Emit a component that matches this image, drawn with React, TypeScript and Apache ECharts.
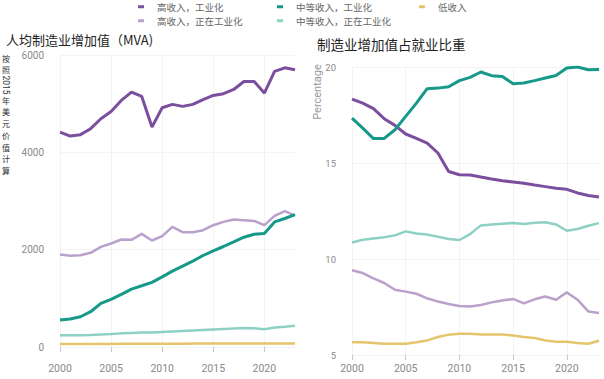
import React, { useEffect, useRef } from "react";
import * as echarts from "echarts";

const years = ["2000","2001","2002","2003","2004","2005","2006","2007","2008","2009","2010","2011","2012","2013","2014","2015","2016","2017","2018","2019","2020","2021","2022","2023"];

const seriesNames = ["高收入，工业化", "中等收入，工业化", "低收入", "高收入，正在工业化", "中等收入，正在工业化"];
const seriesColors = ["#7b4f9d", "#17998a", "#e6c46c", "#b9a1cb", "#8fd0c5"];

// MVA per capita (constant 2015 USD)
const mvaHighInd = [4416, 4334, 4363, 4486, 4691, 4841, 5067, 5237, 5149, 4519, 4917, 4985, 4944, 4985, 5081, 5169, 5204, 5292, 5456, 5456, 5217, 5662, 5737, 5696];
const mvaMidInd = [554, 574, 622, 725, 896, 978, 1081, 1190, 1258, 1327, 1442, 1559, 1662, 1764, 1880, 1976, 2065, 2160, 2256, 2318, 2332, 2570, 2640, 2720];
const mvaLow = [60, 60, 62, 62, 63, 64, 65, 66, 67, 67, 68, 69, 69, 70, 70, 71, 71, 72, 72, 72, 70, 71, 72, 72];
const mvaHighIng = [1901, 1873, 1887, 1935, 2058, 2127, 2209, 2202, 2325, 2188, 2277, 2468, 2359, 2359, 2400, 2503, 2571, 2619, 2605, 2591, 2503, 2694, 2790, 2700];
const mvaMidIng = [240, 240, 242, 245, 255, 265, 280, 290, 300, 300, 310, 320, 330, 340, 350, 360, 370, 380, 390, 385, 365, 400, 415, 435];

// Manufacturing share of employment (%)
const shHighInd = [18.33, 18.12, 17.83, 17.31, 16.96, 16.51, 16.28, 16.04, 15.52, 14.56, 14.39, 14.38, 14.27, 14.17, 14.08, 14.01, 13.94, 13.85, 13.77, 13.68, 13.63, 13.44, 13.31, 13.23];
const shMidInd = [17.34, 16.82, 16.27, 16.28, 16.73, 17.43, 18.12, 18.87, 18.9, 18.97, 19.29, 19.46, 19.74, 19.55, 19.51, 19.13, 19.17, 19.29, 19.43, 19.56, 19.95, 20.0, 19.86, 19.87];
const shLow = [5.66, 5.66, 5.63, 5.59, 5.59, 5.59, 5.66, 5.76, 5.94, 6.06, 6.11, 6.11, 6.07, 6.07, 6.07, 6.02, 5.94, 5.89, 5.76, 5.69, 5.69, 5.63, 5.59, 5.74];
const shHighIng = [9.41, 9.27, 8.99, 8.75, 8.40, 8.30, 8.19, 7.95, 7.79, 7.66, 7.55, 7.53, 7.60, 7.74, 7.84, 7.92, 7.69, 7.90, 8.05, 7.88, 8.26, 7.88, 7.27, 7.19];
const shMidIng = [10.86, 11.0, 11.07, 11.13, 11.23, 11.44, 11.33, 11.27, 11.16, 11.04, 10.99, 11.30, 11.75, 11.80, 11.84, 11.87, 11.82, 11.89, 11.91, 11.80, 11.47, 11.56, 11.73, 11.87];

const leftTicks = { min: 0, max: 6000, interval: 2000 };
const rightTicks = { min: 5, max: 20, interval: 5 };

const CJK = '"Noto Sans CJK SC", "Noto Sans", sans-serif';
const NUM = 'Roboto, "Open Sans", sans-serif';

export default function App() {
  const ref = useRef<HTMLDivElement>(null);
  useEffect(() => {
    const chart = echarts.init(ref.current!, null, { renderer: "svg" });
    const mvaData = [mvaHighInd, mvaMidInd, mvaLow, mvaHighIng, mvaMidIng];
    const shData = [shHighInd, shMidInd, shLow, shHighIng, shMidIng];
    const widths = [3, 3, 2.5, 2.5, 2.5];

    const xAxisBase = (gridIndex: number, offset: number) => ({
      type: "category",
      gridIndex,
      data: years,
      boundaryGap: false,
      offset,
      axisLine: { show: false },
      axisTick: { show: true, interval: 4, length: 5, lineStyle: { color: "#c8c8c8" } },
      axisLabel: { interval: 4, margin: 8, color: "#8a8a8a", fontSize: 10.5, fontFamily: NUM },
      splitLine: { show: true, interval: 4, lineStyle: { color: "#f3f3f3", width: 1 } },
    });
    const yAxisBase = (gridIndex: number, t: any, fs: number) => ({
      type: "value",
      gridIndex,
      min: t.min,
      max: t.max,
      interval: t.interval,
      axisLine: { show: false },
      axisTick: { show: false },
      axisLabel: { margin: 16, color: "#8a8a8a", fontSize: fs, fontFamily: NUM, formatter: (v: number) => String(v) },
      splitLine: { show: true, lineStyle: { color: "#f3f3f3", width: 1 } },
    });

    const series: any[] = [];
    seriesNames.forEach((name, i) => {
      series.push({
        type: "line", name, xAxisIndex: 0, yAxisIndex: 0, data: mvaData[i],
        showSymbol: false, symbol: "none", color: seriesColors[i],
        lineStyle: { width: widths[i], color: seriesColors[i] },
        z: i < 2 ? 3 : 2,
      });
      series.push({
        type: "line", name, xAxisIndex: 1, yAxisIndex: 1, data: shData[i],
        showSymbol: false, symbol: "none", color: seriesColors[i],
        lineStyle: { width: widths[i], color: seriesColors[i] },
        z: i < 2 ? 3 : 2,
      });
    });

    const legendPos = [
      { left: 138, top: 2 },
      { left: 277, top: 2 },
      { left: 419, top: 2 },
      { left: 138, top: 16 },
      { left: 277, top: 16 },
    ];
    const legends = seriesNames.map((name, i) => ({
      data: [name],
      left: legendPos[i].left,
      top: legendPos[i].top,
      icon: "rect",
      itemWidth: 6,
      itemHeight: 3,
      padding: 0,
      selectedMode: false,
      textStyle: { fontSize: 9.5, color: "#666", fontFamily: CJK, padding: [0, 0, 0, 8] },
    }));

    const yNameStyle = { font: `8px ${CJK}`, fill: "#333", textAlign: "center", textVerticalAlign: "middle" };

    chart.setOption({
      animation: false,
      backgroundColor: "#ffffff",
      legend: legends,
      grid: [
        { left: 60, right: 309, top: 55, bottom: 32, containLabel: false },
        { left: 352, right: 5, top: 67, bottom: 24, containLabel: false },
      ],
      xAxis: [xAxisBase(0, 8), xAxisBase(1, 0)],
      yAxis: [yAxisBase(0, leftTicks, 10), yAxisBase(1, rightTicks, 9.5)],
      series,
      graphic: [
        { type: "text", x: 6, y: 39.5, style: { text: "人均制造业增加值（MVA)", font: `13px ${CJK}`, fill: "#222", textVerticalAlign: "middle" } },
        { type: "text", x: 317, y: 44, style: { text: "制造业增加值占就业比重", font: `13.5px ${CJK}`, fill: "#222", textVerticalAlign: "middle" } },
        { type: "text", x: 6, y: 63.9, style: { ...yNameStyle, text: "按\n照", lineHeight: 11.8 } },
        { type: "text", x: 6, y: 85, rotation: -Math.PI / 2, style: { ...yNameStyle, text: "2015", font: `8.5px ${NUM}` } },
        { type: "text", x: 6, y: 135.4, style: { ...yNameStyle, text: "年\n美\n元\n价\n值\n计\n算", lineHeight: 11.8 } },
        { type: "text", x: 317, y: 92, rotation: Math.PI / 2, style: { text: "Percentage", font: `11px ${NUM}`, fill: "#9a9a9a", textAlign: "center", textVerticalAlign: "middle" } },
      ],
    });
    return () => chart.dispose();
  }, []);
  return <div ref={ref} style={{ position: "absolute", left: 0, top: 0, width: 604, height: 379 }} />;
}
